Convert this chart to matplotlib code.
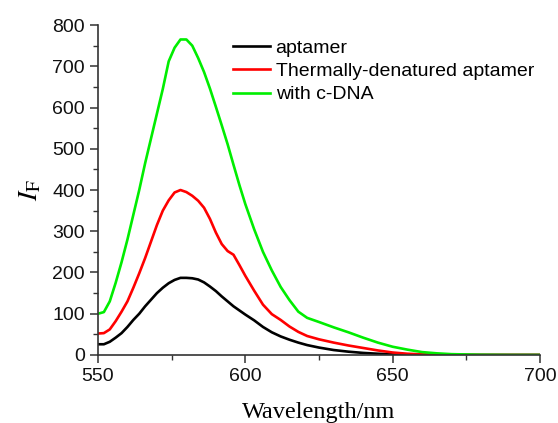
import matplotlib
matplotlib.use("Agg")
import matplotlib.pyplot as plt
from matplotlib.ticker import MultipleLocator

# wavelength grid (nm) and fluorescence intensity
wavelength = [550, 552, 554, 556, 558, 560, 562, 564, 566, 568, 570, 572, 574,
              576, 578, 580, 582, 584, 586, 588, 590, 592, 594, 596, 598, 600,
              603, 606, 609, 612, 615, 618, 621, 625, 630, 635, 640, 645, 650,
              655, 660, 665, 670, 680, 690, 700]

aptamer = [26, 26, 32, 42, 53, 68, 85, 100, 118, 134, 150, 163, 174,
           182, 187, 187, 186, 183, 176, 166, 155, 142, 130, 118, 108, 98,
           84, 68, 55, 45, 37, 30, 24, 18, 12, 8, 5, 3, 1.5,
           1, 0.5, 0.3, 0, 0, 0, 0]

denatured = [52, 53, 62, 82, 105, 130, 163, 198, 235, 275, 315, 350, 375,
             394, 400, 395, 386, 374, 357, 330, 297, 269, 252, 243, 218, 192,
             156, 122, 99, 85, 69, 56, 46, 38, 30, 23, 17, 11, 6,
             3, 1.5, 1, 0.5, 0, 0, 0]

cdna = [100, 104, 130, 175, 225, 280, 340, 400, 465, 525, 585, 645, 712,
        745, 765, 765, 750, 720, 686, 646, 602, 557, 511, 461, 412, 366,
        305, 250, 205, 165, 133, 105, 90, 80, 67, 55, 42, 30, 20,
        13, 7, 4, 2, 0.5, 0, 0]

labels = ["aptamer", "Thermally-denatured aptamer", "with c-DNA"]
colors = ["#000000", "#ff0000", "#00ee00"]

plt.rcParams["font.family"] = ["Liberation Sans", "DejaVu Sans"]
plt.rcParams["mathtext.fontset"] = "stix"

fig = plt.figure(figsize=(5.58, 4.23), dpi=100)
ax = fig.add_axes([0.1756, 0.1608, 0.792, 0.780])

for y, lab, c in zip([aptamer, denatured, cdna], labels, colors):
    ax.plot(wavelength, y, color=c, lw=1.9, label=lab)

ax.set_xlim(550, 700)
ax.set_ylim(0, 800)
ax.xaxis.set_major_locator(MultipleLocator(50))
ax.xaxis.set_minor_locator(MultipleLocator(25))
ax.yaxis.set_major_locator(MultipleLocator(100))
ax.yaxis.set_minor_locator(MultipleLocator(50))

for side in ["top", "right"]:
    ax.spines[side].set_visible(False)
for side in ["left", "bottom"]:
    ax.spines[side].set_linewidth(1.2)
    ax.spines[side].set_color("#333333")

ax.tick_params(which="major", direction="out", length=6, width=1.1,
               labelsize=14, color="#333333", labelcolor="#111111")
ax.tick_params(which="minor", direction="out", length=3.5, width=1.0,
               color="#333333")

ax.set_xlabel("Wavelength/nm", family=["Liberation Serif"], fontsize=17.5,
              labelpad=12)
ax.set_ylabel(r"$I_{\mathrm{F}}$", fontsize=20, labelpad=6)

ax.legend(loc="upper left", bbox_to_anchor=(0.305, 0.958), frameon=False,
          fontsize=14, handlelength=1.9, handletextpad=0.3,
          labelspacing=0.3, borderpad=0, borderaxespad=0)

fig.savefig("out.png", dpi=100)
